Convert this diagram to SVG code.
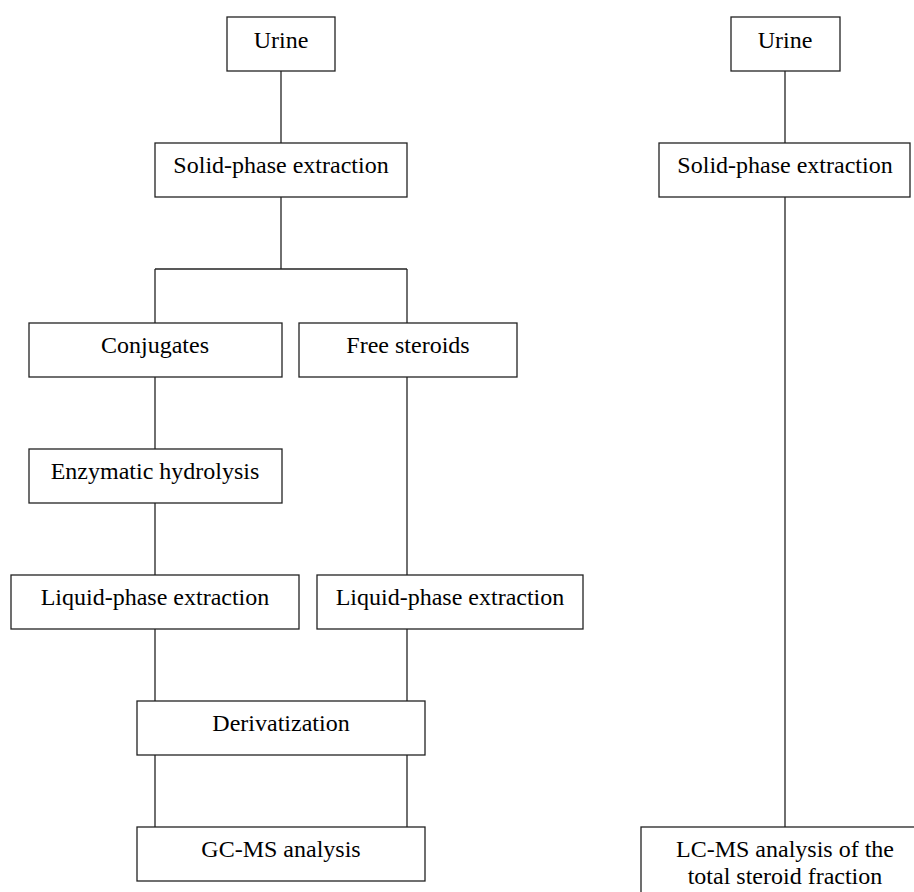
<svg xmlns="http://www.w3.org/2000/svg" width="914" height="892" viewBox="0 0 914 892">
<style>
rect{fill:#fff;stroke:#222;stroke-width:1.3}
line{stroke:#222;stroke-width:1.3}
text{font-family:"Liberation Serif","Times New Roman",serif;font-size:24px;fill:#000;text-anchor:middle}
</style>
<rect x="0" y="0" width="914" height="892" style="stroke:none"/>
<g id="connectors">
<line x1="281" y1="71" x2="281" y2="143"/>
<line x1="281" y1="197" x2="281" y2="269"/>
<line x1="155" y1="269" x2="407" y2="269"/>
<line x1="155" y1="269" x2="155" y2="323"/>
<line x1="407" y1="269" x2="407" y2="323"/>
<line x1="155" y1="377" x2="155" y2="449"/>
<line x1="155" y1="503" x2="155" y2="575"/>
<line x1="407" y1="377" x2="407" y2="575"/>
<line x1="155" y1="629" x2="155" y2="701"/>
<line x1="407" y1="629" x2="407" y2="701"/>
<line x1="155" y1="755" x2="155" y2="827"/>
<line x1="407" y1="755" x2="407" y2="827"/>
<line x1="785" y1="71" x2="785" y2="143"/>
<line x1="785" y1="197" x2="785" y2="827"/>
</g>
<g id="urine-left"><rect x="227" y="17" width="108" height="54"/><text x="281" y="48">Urine</text></g>
<g id="spe-left"><rect x="155" y="143" width="252" height="54"/><text x="281" y="173">Solid-phase extraction</text></g>
<g id="conjugates"><rect x="29" y="323" width="253" height="54"/><text x="155" y="353">Conjugates</text></g>
<g id="free-steroids"><rect x="299" y="323" width="218" height="54"/><text x="408" y="353">Free steroids</text></g>
<g id="hydrolysis"><rect x="29" y="449" width="253" height="54"/><text x="155" y="479">Enzymatic hydrolysis</text></g>
<g id="lpe-left"><rect x="11" y="575" width="288" height="54"/><text x="155" y="605">Liquid-phase extraction</text></g>
<g id="lpe-right"><rect x="317" y="575" width="266" height="54"/><text x="450" y="605">Liquid-phase extraction</text></g>
<g id="derivatization"><rect x="137" y="701" width="288" height="54"/><text x="281" y="731">Derivatization</text></g>
<g id="gcms"><rect x="137" y="827" width="288" height="54"/><text x="281" y="857">GC-MS analysis</text></g>
<g id="urine-right"><rect x="731" y="17" width="109" height="54"/><text x="785" y="48">Urine</text></g>
<g id="spe-right"><rect x="659" y="143" width="251" height="54"/><text x="785" y="173">Solid-phase extraction</text></g>
<g id="lcms"><rect x="641" y="827" width="288" height="80"/><text x="785" y="857">LC-MS analysis of the</text><text x="785" y="884">total steroid fraction</text></g>
</svg>
